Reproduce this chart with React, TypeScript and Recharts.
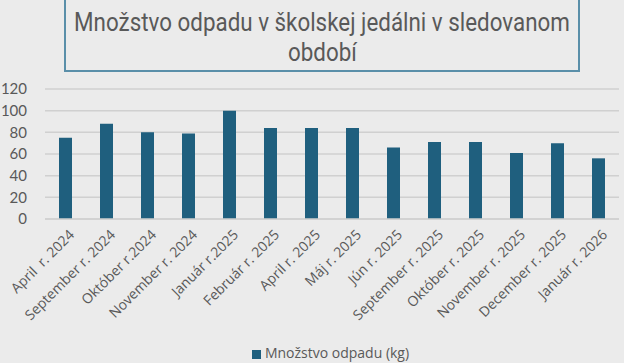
import React from "react";
import { BarChart, Bar, XAxis, YAxis, CartesianGrid, Legend } from "recharts";

const categories = [
  "April  r. 2024",
  "September r. 2024",
  "Október r.2024",
  "November r. 2024",
  "Január r.2025",
  "Február r. 2025",
  "April r. 2025",
  "Máj r. 2025",
  "Jún r. 2025",
  "September r. 2025",
  "Október r. 2025",
  "November r. 2025",
  "December r. 2025",
  "Január r. 2026",
];
const wasteKg = [75, 88, 80, 79, 100, 84, 84, 84, 66, 71, 71, 61, 70, 56];
const yTicks = [0, 20, 40, 60, 80, 100, 120];
const seriesName = "Množstvo odpadu (kg)";
const title = ["Množstvo odpadu v školskej jedálni v sledovanom", "období"];

const data = categories.map((c, i) => ({ name: c, value: wasteKg[i] }));

const BAR = "#1f5f7e";
const TXT = "#595959";

const XTick = (props: any) => {
  const { x, y, payload } = props;
  return (
    <g transform={`translate(${x + 4},${y + 3})`}>
      <text
        x={0}
        y={0}
        dy={8}
        textAnchor="end"
        fill={TXT}
        fontSize={14}
        fontFamily="'Open Sans', sans-serif"
        transform="rotate(-45)"
        style={{ whiteSpace: "pre" }}
      >
        {payload.value}
      </text>
    </g>
  );
};

export default function App() {
  return (
    <div
      style={{
        position: "absolute",
        left: 0,
        top: 0,
        width: 624,
        height: 363,
        background: "#ebebeb",
        overflow: "hidden",
      }}
    >
      <div
        style={{
          position: "absolute",
          left: 64,
          top: -2,
          width: 516,
          height: 74,
          border: "2px solid #5a8fa9",
          color: TXT,
          fontFamily: "'Roboto', sans-serif",
          fontSize: 25,
          lineHeight: "30px",
          paddingTop: 8,
          boxSizing: "border-box",
          display: "flex",
          flexDirection: "column",
          alignItems: "center",
        }}
      >
        {title.map((t, i) => (
          <div
            key={i}
            style={{
              whiteSpace: "nowrap",
              flex: "none",
              transform: "scaleX(0.895)",
              transformOrigin: "center",
            }}
          >
            {t}
          </div>
        ))}
      </div>
      <BarChart
        width={624}
        height={363}
        data={data}
        margin={{ top: 89, right: 5, left: 0, bottom: 1 }}
        barCategoryGap="34%"
      >
        <CartesianGrid vertical={false} stroke="#d0d0d0" strokeWidth={1.5} />
        <YAxis
          domain={[0, 120]}
          ticks={yTicks}
          width={45}
          axisLine={false}
          tickLine={false}
          interval={0}
          tick={{ fill: TXT, fontSize: 15, fontFamily: "'Lato', sans-serif" }}
          tickMargin={12}
        />
        <XAxis
          dataKey="name"
          interval={0}
          height={124}
          axisLine={{ stroke: "#d0d0d0", strokeWidth: 1.5 }}
          tickLine={false}
          tick={<XTick />}
        />
        <Legend
          verticalAlign="bottom"
          iconType="square"
          iconSize={9}
          wrapperStyle={{ fontFamily: "'Open Sans', sans-serif", fontSize: 14, paddingLeft: 26 }}
          formatter={(v: string) => <span style={{ color: TXT }}>{v}</span>}
        />
        <Bar dataKey="value" name={seriesName} fill={BAR} barSize={13} isAnimationActive={false} />
      </BarChart>
    </div>
  );
}
